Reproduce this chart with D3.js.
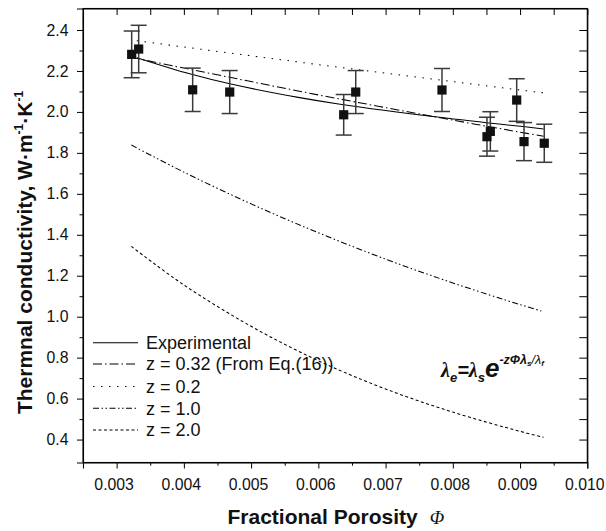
<!DOCTYPE html>
<html><head><meta charset="utf-8">
<script src="https://cdn.jsdelivr.net/npm/d3@7"></script>
<style>
html,body{margin:0;padding:0;background:#fff;}
svg{display:block;font-family:"Liberation Sans",Arial,Helvetica,sans-serif;}
</style></head>
<body>
<svg id="chart" width="606" height="531"></svg>
<script>
// ---- data ----
const porosity = [0.003224,0.003328,0.004131,0.004682,0.006377,0.006556,0.007839,0.008508,0.008558,0.00895,0.009059,0.00936];
const conductivity = [2.281,2.307,2.108,2.097,1.986,2.097,2.107,1.879,1.905,2.058,1.855,1.847];
const errorBar = [0.114,0.116,0.106,0.105,0.099,0.105,0.105,0.095,0.096,0.104,0.093,0.093];

const expPorosity = [0.0033,0.0041,0.0047,0.0057,0.0063,0.0078,0.00935];
const expFit = [2.265,2.185,2.136,2.071,2.039,1.974,1.917];

const modelPorosity = [0.00322,0.004,0.005,0.006,0.007,0.008,0.009,0.00935];
const z032 = [2.267,2.214,2.148,2.083,2.021,1.960,1.901,1.881];
const z1 = [1.838,1.706,1.551,1.410,1.281,1.165,1.059,1.024];
const z2 = [1.343,1.155,0.953,0.785,0.647,0.534,0.440,0.411];
const z02Porosity = [0.0033,0.004,0.005,0.006,0.007,0.008,0.009,0.00935];
const z02 = [2.348,2.317,2.274,2.231,2.189,2.148,2.107,2.093];

const xTicks = [0.003,0.004,0.005,0.006,0.007,0.008,0.009,0.010];
const xTickLabels = ["0.003","0.004","0.005","0.006","0.007","0.008","0.009","0.010"];
const xMinorTicks = [0.0035,0.0045,0.0055,0.0065,0.0075,0.0085,0.0095];
const yTicks = [0.4,0.6,0.8,1.0,1.2,1.4,1.6,1.8,2.0,2.2,2.4];
const yTickLabels = ["0.4","0.6","0.8","1.0","1.2","1.4","1.6","1.8","2.0","2.2","2.4"];
const yMinorTicks = [0.5,0.7,0.9,1.1,1.3,1.5,1.7,1.9,2.1,2.3];

const legendLabels = ["Experimental","z = 0.32 (From Eq.(16))","z = 0.2","z = 1.0","z = 2.0"];
const lineDashes = [null,"9,3,1.5,3","1.5,6.5","6,2.5,1.5,2.5,1.5,2.5","3,2.5"];

// ---- layout ----
const svg = d3.select("#chart");
const L = 83, R = 587.3, T = 8.5, B = 462.5;
const x = d3.scaleLinear().domain([0.0025,0.010]).range([L,R]);
const y = d3.scaleLinear().domain([0.288,2.505]).range([B,T]);

// axes
const gx = svg.append("g").attr("transform",`translate(0,${B})`)
  .call(d3.axisBottom(x).tickValues(xTicks).tickFormat((d,i)=>xTickLabels[i]).tickSize(6).tickPadding(10.5));
svg.append("g").attr("transform",`translate(0,${B})`)
  .call(d3.axisBottom(x).tickValues(xMinorTicks).tickFormat("").tickSize(3.2)).select(".domain").remove();
const gy = svg.append("g").attr("transform",`translate(${L},0)`)
  .call(d3.axisLeft(y).tickValues(yTicks).tickFormat((d,i)=>yTickLabels[i]).tickSize(6).tickPadding(8.5));
svg.append("g").attr("transform",`translate(${L},0)`)
  .call(d3.axisLeft(y).tickValues(yMinorTicks).tickFormat("").tickSize(3.5)).select(".domain").remove();
// top: inward ticks every 0.0005
svg.append("g").attr("transform",`translate(0,${T})`)
  .call(d3.axisBottom(x).tickValues(xTicks.concat(xMinorTicks)).tickFormat("").tickSizeInner(6.5).tickSizeOuter(0));
// right: inward ticks every 0.1
svg.append("g").attr("transform",`translate(${R},0)`)
  .call(d3.axisLeft(y).tickValues(yTicks.concat(yMinorTicks)).tickFormat("").tickSizeInner(8).tickSizeOuter(0));

svg.selectAll(".domain").attr("stroke","#000").attr("stroke-width",1.1);
svg.selectAll(".tick line").attr("stroke","#000").attr("stroke-width",1);
svg.selectAll(".tick text").attr("font-size",15.8).attr("fill","#111")
  .attr("font-family","'Liberation Sans',Arial,sans-serif");
gx.selectAll(".tick text").attr("dx",-3);

// frame closing
svg.append("rect").attr("x",L).attr("y",T).attr("width",R-L).attr("height",B-T)
  .attr("fill","none").attr("stroke","#000").attr("stroke-width",1.1);

// curves
const line = d3.line().curve(d3.curveCatmullRom.alpha(0.5));
function drawCurve(xs, ys, dash){
  const p = svg.append("path")
    .attr("d", line(xs.map((v,i)=>[x(v), y(ys[i])])))
    .attr("fill","none").attr("stroke","#000").attr("stroke-width",1.05);
  if (dash) p.attr("stroke-dasharray",dash);
}
drawCurve(expPorosity, expFit, lineDashes[0]);
drawCurve(modelPorosity, z032, lineDashes[1]);
drawCurve(z02Porosity, z02, lineDashes[2]);
drawCurve(modelPorosity, z1, lineDashes[3]);
drawCurve(modelPorosity, z2, lineDashes[4]);

// error bars
const eb = svg.append("g").attr("stroke","#3a3a3a").attr("stroke-width",1.5);
porosity.forEach((p,i)=>{
  const cx = x(p), y1 = y(conductivity[i]+errorBar[i]), y0 = y(conductivity[i]-errorBar[i]);
  eb.append("line").attr("x1",cx).attr("x2",cx).attr("y1",y1).attr("y2",y0);
  eb.append("line").attr("x1",cx-8).attr("x2",cx+8).attr("y1",y1).attr("y2",y1);
  eb.append("line").attr("x1",cx-8).attr("x2",cx+8).attr("y1",y0).attr("y2",y0);
});
// squares
svg.append("g").selectAll("rect").data(porosity).join("rect")
  .attr("x",(d)=>x(d)-4.6).attr("y",(d,i)=>y(conductivity[i])-4.6)
  .attr("width",9.2).attr("height",9.2).attr("fill","#111");

// legend
const legY = [342.7,364,386.5,408.3,430];
const leg = svg.append("g");
legendLabels.forEach((lab,i)=>{
  const l = leg.append("line").attr("x1",93).attr("x2",138).attr("y1",legY[i]).attr("y2",legY[i])
    .attr("stroke","#000").attr("stroke-width",1.05);
  if (lineDashes[i]) l.attr("stroke-dasharray",lineDashes[i]);
  leg.append("text").attr("x",146).attr("y",legY[i]+6.3).attr("font-size",18).attr("fill","#111").text(lab);
});

// axis titles
const xt = svg.append("text").attr("x",227.5).attr("y",523.5).attr("font-size",21)
  .attr("font-weight","bold").attr("fill","#111");
xt.append("tspan").text("Fractional Porosity");
xt.append("tspan").attr("dx",12).attr("font-family","'Liberation Serif','Times New Roman',serif")
  .attr("font-style","italic").attr("font-weight","normal").attr("font-size",19).text("Φ");

const yt = svg.append("text").attr("transform","translate(32,252.5) rotate(-90)")
  .attr("text-anchor","middle").attr("font-size",21).attr("font-weight","bold").attr("fill","#111");
yt.append("tspan").text("Thermnal conductivity, W·m");
yt.append("tspan").attr("font-size",12).attr("dy",-9).text("-1");
yt.append("tspan").attr("dy",9).text("·K");
yt.append("tspan").attr("font-size",12).attr("dy",-9).text("-1");

// equation
const eq = svg.append("text").attr("x",441).attr("y",377).attr("font-weight","bold")
  .attr("font-style","italic").attr("fill","#111").attr("font-size",20);
eq.append("tspan").attr("font-family","'Liberation Serif',serif").text("λ");
eq.append("tspan").attr("font-size",13).attr("dy",5).text("e");
eq.append("tspan").attr("dy",-5).text("=");
eq.append("tspan").attr("font-family","'Liberation Serif',serif").text("λ");
eq.append("tspan").attr("font-size",13).attr("dy",5).text("s");
eq.append("tspan").attr("font-size",26).attr("dy",-5).text("e");
eq.append("tspan").attr("font-size",12.5).attr("dy",-13).text("-zΦλ");
eq.append("tspan").attr("font-size",8).attr("dy",2).text("s");
eq.append("tspan").attr("font-size",12.5).attr("dy",-2).attr("font-weight","normal").text("/λ");
eq.append("tspan").attr("font-size",8).attr("dy",2).text("f");
</script>
</body></html>
